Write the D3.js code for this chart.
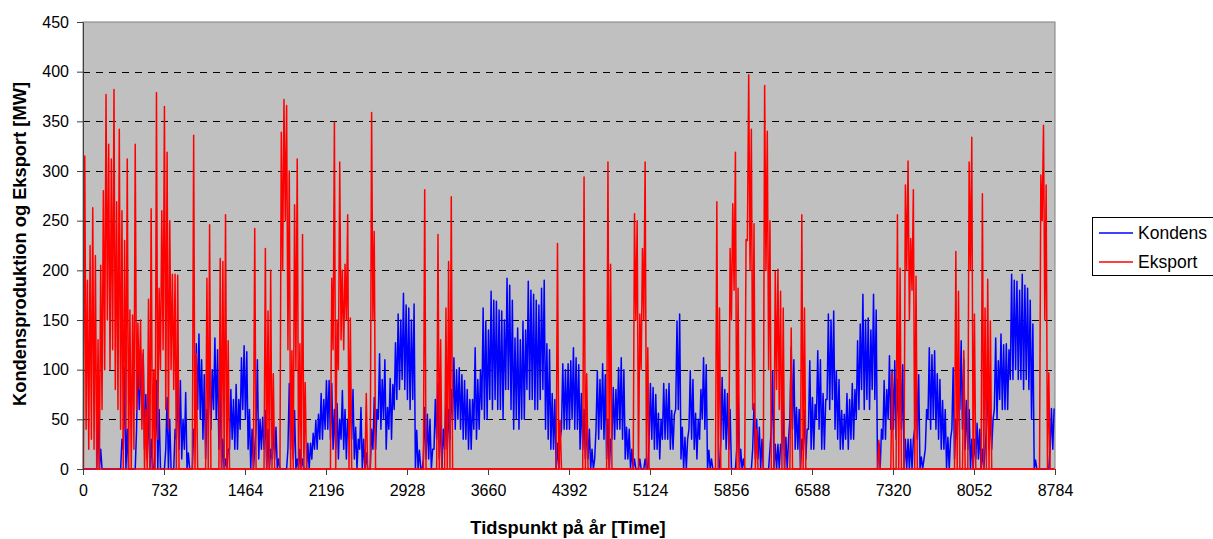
<!DOCTYPE html>
<html><head><meta charset="utf-8">
<script src="https://cdn.jsdelivr.net/npm/d3@7"></script>
<style>body{margin:0;background:#fff;}</style>
</head><body>
<svg id="chart" width="1213" height="539"></svg>
<script>
// ---- data (one high and one low value per day) ----
const xTicks = [0,732,1464,2196,2928,3660,4392,5124,5856,6588,7320,8052,8784];
const yTicks = [0,50,100,150,200,250,300,350,400,450];
const seriesNames = ["Kondens","Eksport"];
const seriesColors = ["#0000FF","#FF0000"];
const xTitle = "Tidspunkt på år [Time]";
const yTitle = "Kondensproduktion og Eksport [MW]";

const kondensHigh = [
0,0,0,0,0,69,20,0,0,0,
0,0,0,0,30,102,40,0,0,0,
116,119,116,75,74,30,0,89,60,0,
0,72,50,0,40,89,89,50,77,16,
0,40,126,136,110,95,60,115,100,132,
120,89,30,10,20,80,70,85,70,112,
124,118,60,40,20,110,50,52,59,40,
20,42,42,10,0,0,0,86,70,59,
10,20,10,0,26,26,36,49,55,76,
70,89,89,86,60,66,50,79,60,50,
86,80,42,30,62,30,16,0,40,72,
60,116,90,110,62,91,85,127,156,150,
177,165,162,150,166,39,19,0,62,55,
50,20,70,86,60,40,66,60,80,112,
100,102,95,89,80,70,70,122,90,100,
162,149,140,179,170,169,160,159,150,192,
185,170,132,142,130,149,140,189,180,176,
170,165,182,190,126,120,76,70,26,30,
106,100,106,109,122,112,105,76,60,46,
40,20,10,99,90,106,95,50,30,82,
80,102,112,100,42,40,20,10,0,10,
0,10,0,86,82,75,56,50,86,80,
86,59,55,149,156,42,32,30,99,90,
56,50,80,112,105,19,10,0,0,0,
92,80,76,60,0,0,76,20,10,0,
0,0,66,50,42,30,0,0,20,99,
25,25,25,69,32,30,122,110,62,60,
30,59,40,109,72,65,119,110,76,70,
156,150,159,99,90,59,55,76,70,86,
80,129,146,176,150,152,140,176,160,26,
40,89,80,114,100,109,90,114,105,30,
30,30,30,104,95,12,10,60,122,115,
119,96,90,69,60,32,30,102,50,80,
129,110,69,60,30,30,46,40,20,20,
96,60,50,132,109,136,125,126,120,196,
190,189,180,196,185,182,170,146,9,0,
0,0,0,0,61,61];

const kondensLow = [
0,0,0,0,0,0,0,0,0,0,
0,0,0,0,0,20,0,0,0,0,
40,60,50,20,10,0,0,20,0,0,
0,20,0,0,0,30,20,10,20,0,
0,0,40,60,50,30,10,50,40,60,
50,20,0,0,0,20,30,20,20,40,
60,50,20,0,0,40,10,20,20,0,
0,10,10,0,0,0,0,20,20,10,
0,0,0,0,0,0,10,20,20,30,
30,40,40,30,20,20,10,30,20,10,
30,30,10,0,20,0,0,0,0,20,
20,50,40,50,20,40,30,60,70,80,
90,80,70,60,70,0,0,0,10,10,
10,0,20,30,10,0,20,20,30,50,
40,50,40,30,30,20,20,40,30,40,
60,50,50,70,60,70,60,60,50,80,
80,60,40,50,40,50,50,80,70,70,
60,60,70,80,40,30,20,20,0,0,
40,40,40,40,50,40,40,20,20,10,
10,0,0,40,30,40,30,10,0,30,
30,40,40,30,10,10,0,0,0,0,
0,0,0,30,30,20,20,10,30,30,
30,20,20,60,60,10,0,0,40,30,
20,10,30,50,40,0,0,0,0,0,
30,30,20,20,0,0,20,0,0,0,
0,0,20,10,10,0,0,0,0,40,
0,0,0,20,0,0,50,40,20,20,
0,20,10,40,20,20,50,40,20,20,
70,60,70,40,30,20,20,30,20,30,
30,50,60,80,60,70,60,80,70,0,
0,30,30,50,40,40,30,50,40,0,
0,0,0,40,30,0,0,20,50,40,
50,40,30,20,20,0,0,40,10,30,
60,40,20,20,0,0,10,10,0,0,
40,20,20,60,50,70,60,60,60,90,
90,100,90,90,80,90,80,50,0,0,
0,0,0,0,20,20];

const eksportHigh = [
315,190,225,263,215,130,205,280,377,327,
312,382,269,342,260,230,312,160,155,327,
147,150,120,60,171,262,100,379,182,260,
365,319,250,196,196,195,0,0,0,0,
0,336,116,0,0,0,192,246,0,0,
0,212,209,256,129,0,0,0,0,0,
0,0,0,0,242,0,0,0,222,159,
200,96,0,0,339,372,366,300,119,266,
312,126,236,87,0,0,0,0,0,0,
0,0,0,192,349,150,309,200,206,256,
152,0,0,0,0,0,76,0,359,239,
0,0,0,0,0,0,0,0,0,0,
0,0,0,0,0,0,0,0,281,0,
0,0,0,236,130,0,162,209,274,0,
0,0,0,0,0,0,0,0,0,0,
0,0,0,0,0,0,0,0,0,0,
0,0,0,0,0,0,0,0,0,0,
0,0,0,0,0,0,0,0,227,49,
0,0,0,0,0,0,0,0,294,96,
0,0,0,0,0,0,0,309,206,0,
0,0,0,0,0,0,0,257,250,156,
222,309,122,0,0,0,0,0,0,0,
0,0,0,0,0,0,0,0,0,0,
0,0,0,0,0,0,0,0,269,162,
0,0,0,222,267,319,182,0,0,231,
397,342,247,40,0,0,386,340,250,0,
199,201,179,162,0,0,142,0,0,0,
256,162,0,0,0,0,0,0,0,0,
0,0,0,0,0,0,0,0,0,0,
0,0,0,0,0,0,0,0,0,29,
0,0,0,0,97,0,256,202,0,286,
310,232,281,194,0,0,0,0,0,0,
0,0,0,0,0,0,0,0,219,179,
0,119,0,309,334,156,0,0,277,162,
191,149,0,0,0,0,0,0,0,0,
0,0,0,0,0,0,0,0,0,0,
296,346,286,97,0,0];

const eksportLow = [
0,40,20,30,20,0,0,60,100,150,
100,120,80,60,40,0,40,0,0,20,
60,80,40,0,0,0,0,0,30,100,
120,60,40,100,80,0,0,0,0,0,
0,0,0,0,0,0,0,0,0,0,
0,0,0,0,0,0,0,0,0,0,
0,0,0,0,0,0,0,0,0,0,
0,0,0,0,0,200,250,120,0,0,
100,0,0,0,0,0,0,0,0,0,
0,0,0,0,120,0,100,130,120,150,
0,0,0,0,0,0,0,0,0,150,
0,0,0,0,0,0,0,0,0,0,
0,0,0,0,0,0,0,0,0,0,
0,0,0,0,0,0,0,0,0,0,
0,0,0,0,0,0,0,0,0,0,
0,0,0,0,0,0,0,0,0,0,
0,0,0,0,0,0,0,0,0,0,
0,0,0,0,0,0,0,0,0,0,
0,0,0,0,0,0,0,0,0,0,
0,0,0,0,0,0,0,0,0,0,
0,0,0,0,0,0,0,0,150,0,
100,150,0,0,0,0,0,0,0,0,
0,0,0,0,0,0,0,0,0,0,
0,0,0,0,0,0,0,0,0,0,
0,0,0,0,150,180,0,0,0,0,
230,200,60,0,0,0,0,200,100,0,
0,80,60,0,0,0,0,0,0,0,
0,0,0,0,0,0,0,0,0,0,
0,0,0,0,0,0,0,0,0,0,
0,0,0,0,0,0,0,0,0,0,
0,0,0,0,0,0,0,0,0,0,
200,150,180,0,0,0,0,0,0,0,
0,0,0,0,0,0,0,0,0,0,
0,0,0,0,200,0,0,0,0,0,
0,0,0,0,0,0,0,0,0,0,
0,0,0,0,0,0,0,0,0,0,
0,250,150,0,0,0];

// ---- layout ----
const W = 1213, H = 539;
const plot = {left: 83, right: 1055, top: 22, bottom: 469};
const svg = d3.select("#chart");
svg.append("rect").attr("width", W).attr("height", H).attr("fill", "#fff");

const x = d3.scaleLinear().domain([0, 8784]).range([plot.left, plot.right]);
const y = d3.scaleLinear().domain([0, 450]).range([plot.bottom, plot.top]);

// plot area
svg.append("rect")
  .attr("x", plot.left).attr("y", plot.top)
  .attr("width", plot.right - plot.left).attr("height", plot.bottom - plot.top)
  .attr("fill", "#C0C0C0").attr("stroke", "#808080").attr("stroke-width", 1);

// gridlines
svg.append("g").selectAll("line")
  .data(yTicks.filter(v => v > 0 && v < 450))
  .join("line")
  .attr("x1", plot.left).attr("x2", plot.right)
  .attr("y1", d => Math.round(y(d)) + 0.5).attr("y2", d => Math.round(y(d)) + 0.5)
  .attr("stroke", "#000").attr("stroke-width", 1).attr("stroke-dasharray", "7,6");

// build points: one low and one high per day
function pts(low, high) {
  const out = [];
  for (let d = 0; d < high.length; d++) {
    out.push([d * 24 + 4, low[d]]);
    out.push([d * 24 + 16, high[d]]);
  }
  return out;
}
const kondensPts = pts(kondensLow, kondensHigh);
const eksportPts = pts(eksportLow, eksportHigh);
const line = d3.line().x(d => x(d[0])).y(d => y(d[1]));

svg.append("path").datum(kondensPts).attr("d", line)
  .attr("fill", "none").attr("stroke", seriesColors[0]).attr("stroke-width", 1.5)
  .attr("stroke-linejoin", "round");
svg.append("path").datum(eksportPts).attr("d", line)
  .attr("fill", "none").attr("stroke", seriesColors[1]).attr("stroke-width", 1.5)
  .attr("stroke-linejoin", "round");
// zero baseline drawn in red (red series sits on 0 most of the year)
svg.append("line").attr("x1", plot.left).attr("x2", plot.right)
  .attr("y1", y(0)).attr("y2", y(0)).attr("stroke", seriesColors[1]).attr("stroke-width", 1.5);

// axes
const fontFam = "Arial, 'Liberation Sans', Helvetica, sans-serif";
const yAxis = d3.axisLeft(y).tickValues(yTicks).tickSize(6).tickPadding(8).tickSizeOuter(0);
const gy = svg.append("g").attr("transform", `translate(${plot.left},0)`).call(yAxis);
gy.select(".domain").attr("stroke", "#404040");
gy.selectAll(".tick line").attr("stroke", "#404040");
gy.selectAll("text").attr("font-family", fontFam).attr("font-size", 16).attr("fill", "#000");

const xAxis = d3.axisBottom(x).tickValues(xTicks).tickSize(6).tickPadding(10).tickSizeOuter(0)
  .tickFormat(d3.format("d"));
const gx = svg.append("g").attr("transform", `translate(0,${plot.bottom})`).call(xAxis);
gx.select(".domain").remove();
gx.selectAll(".tick line").attr("stroke", "#404040");
gx.selectAll("text").attr("font-family", fontFam).attr("font-size", 16).attr("fill", "#000");

// titles
svg.append("text").attr("x", 568).attr("y", 534).attr("text-anchor", "middle")
  .attr("font-family", fontFam).attr("font-weight", "bold").attr("font-size", 18.3)
  .text(xTitle);
svg.append("text").attr("transform", "translate(26,244) rotate(-90)").attr("text-anchor", "middle")
  .attr("font-family", fontFam).attr("font-weight", "bold").attr("font-size", 18.3)
  .text(yTitle);

// legend
const lg = svg.append("g");
lg.append("rect").attr("x", 1092.5).attr("y", 217.5).attr("width", 125).attr("height", 58)
  .attr("fill", "#fff").attr("stroke", "#000").attr("stroke-width", 1);
seriesNames.forEach((name, i) => {
  const yy = 233 + i * 29;
  lg.append("line").attr("x1", 1099).attr("x2", 1133).attr("y1", yy).attr("y2", yy)
    .attr("stroke", seriesColors[i]).attr("stroke-width", 1.5);
  lg.append("text").attr("x", 1138).attr("y", yy + 6)
    .attr("font-family", fontFam).attr("font-size", 17.5).attr("fill", "#000").text(name);
});
</script>
</body></html>
